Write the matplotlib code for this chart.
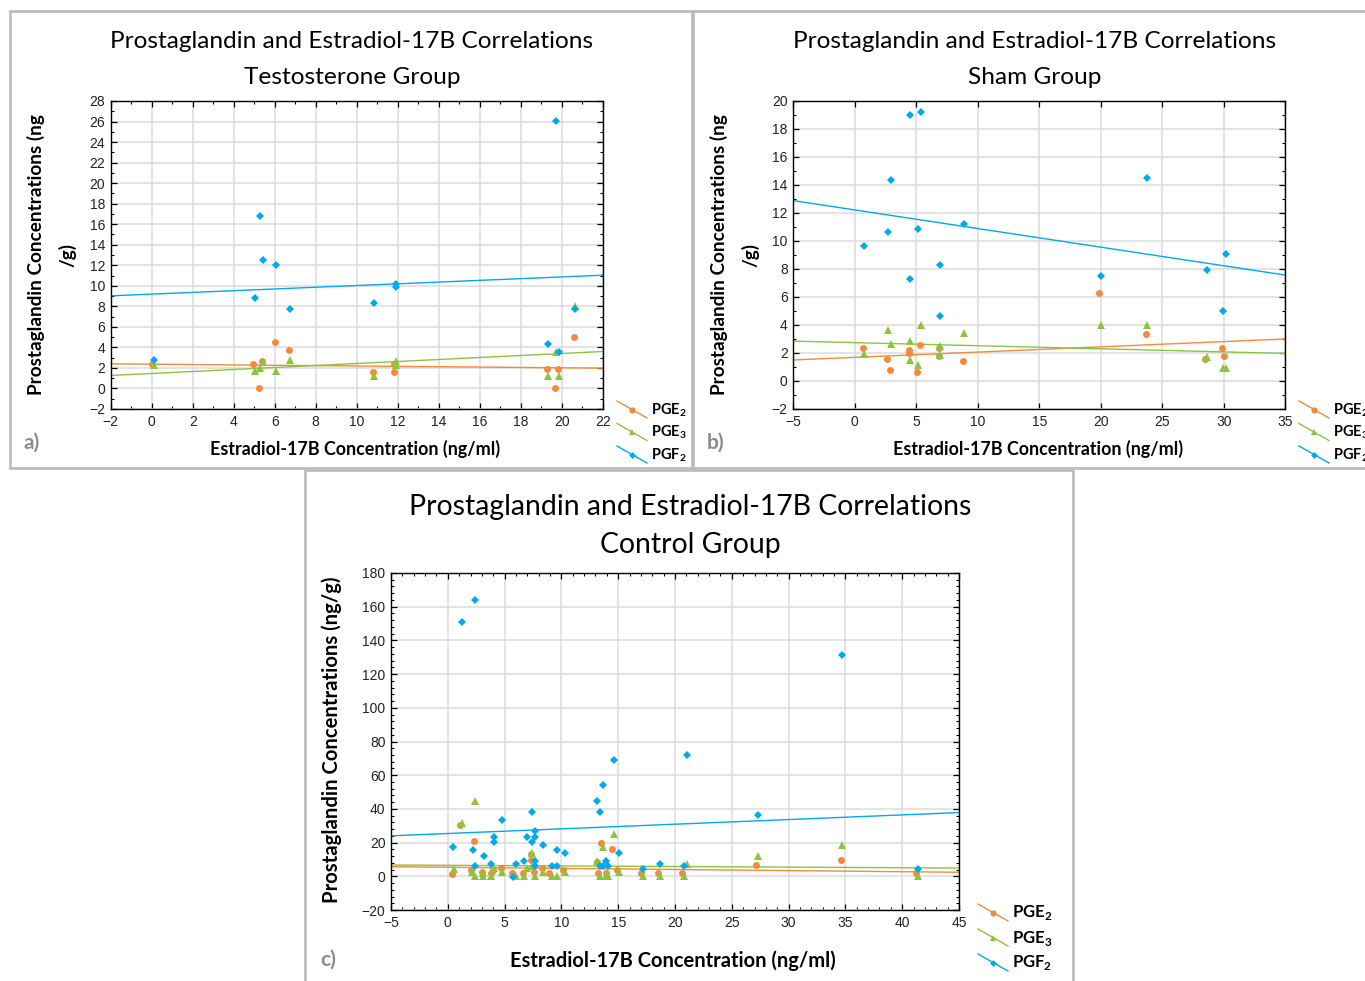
import numpy as np
import matplotlib
matplotlib.use('Agg')
import matplotlib.pyplot as plt
from matplotlib.lines import Line2D
from matplotlib.patches import Rectangle
from matplotlib.ticker import MultipleLocator

plt.rcParams['font.family'] = ['Lato', 'DejaVu Sans']
plt.rcParams['mathtext.fontset'] = 'custom'
plt.rcParams['mathtext.rm'] = 'Lato'
plt.rcParams['mathtext.bf'] = 'Lato:bold'

ORANGE = '#F58A3D'
GREEN = '#8CC43F'
BLUE = '#00A9EC'
TICKFONT = 'Liberation Sans'

# ---------------- a) Testosterone group ----------------
a_pge2_x = [0.03, 4.96, 5.37, 5.22, 6.0, 6.68, 10.78, 11.84, 11.84, 19.27, 19.8, 19.67, 20.59]
a_pge2_y = [2.37, 2.37, 2.63, 0.0, 4.48, 3.70, 1.56, 2.34, 1.56, 1.85, 1.85, 0.0, 5.03]
a_pge3_x = [0.11, 5.02, 5.28, 5.43, 6.08, 6.75, 10.85, 11.9, 11.9, 19.33, 19.87, 19.74, 20.67]
a_pge3_y = [2.24, 1.72, 1.98, 2.53, 1.72, 2.79, 1.17, 2.72, 2.27, 1.17, 1.17, 3.57, 8.04]
a_pgf2_x = [0.11, 5.28, 5.43, 6.08, 5.02, 6.75, 10.85, 11.9, 11.9, 19.74, 19.33, 19.87, 20.67]
a_pgf2_y = [2.76, 16.83, 12.55, 12.03, 8.85, 7.78, 8.30, 10.18, 9.93, 26.1, 4.35, 3.57, 7.78]
# trend lines (slope, intercept)
a_fit = {'pge2': (-0.0175, 2.365), 'pge3': (0.0973, 1.46), 'pgf2': (0.0837, 9.19)}

# ---------------- b) Sham group ----------------
b_pge2_x = [0.64, 2.62, 2.84, 4.38, 4.38, 5.06, 5.28, 6.82, 6.82, 8.80, 19.87, 23.64, 28.49, 29.82, 30.04]
b_pge2_y = [2.38, 1.59, 0.81, 2.19, 2.0, 0.62, 2.57, 2.38, 1.81, 1.40, 6.25, 3.35, 1.59, 2.38, 1.78]
b_pge3_x = [0.75, 2.73, 2.97, 4.52, 4.52, 5.17, 5.41, 6.93, 6.93, 8.91, 20.0, 23.75, 28.6, 29.93, 30.15]
b_pge3_y = [1.90, 3.64, 2.66, 2.85, 1.50, 1.12, 4.02, 2.47, 1.88, 3.45, 4.02, 4.02, 1.69, 0.93, 0.93]
b_pgf2_x = [0.75, 2.97, 2.73, 4.52, 5.41, 5.17, 4.52, 6.93, 6.93, 8.91, 20.0, 23.75, 28.6, 30.15, 29.93]
b_pgf2_y = [9.66, 14.34, 10.65, 19.0, 19.21, 10.84, 7.32, 8.30, 4.61, 11.22, 7.51, 14.53, 7.92, 9.08, 4.99]
b_fit = {'pge2': (0.0375, 1.69), 'pge3': (-0.022, 2.74), 'pgf2': (-0.133, 12.22)}

# ---------------- c) Control group ----------------
c_pge2_x = [0.4, 1.1, 2.28, 2.0, 2.98, 3.84, 3.97, 4.67, 5.63, 6.59, 7.28, 7.28, 7.55, 8.25,
            8.94, 10.17, 13.1, 13.5, 13.25, 14.47, 13.94, 14.9, 17.05, 18.5, 20.66, 27.15, 34.57, 41.2]
c_pge2_y = [1.6, 30.7, 21.1, 3.5, 2.8, 2.0, 3.5, 5.1, 2.0, 2.0, 13.2, 9.9, 2.8, 5.1,
            2.0, 3.5, 8.3, 19.5, 2.0, 16.4, 2.0, 3.5, 2.0, 2.0, 2.0, 6.5, 9.9, 2.0]
c_pge3_x = [0.53, 1.23, 2.42, 2.15, 2.42, 3.11, 3.11, 3.84, 4.1, 4.8, 5.99, 6.72, 6.95, 7.42,
            7.42, 7.68, 8.38, 9.14, 9.64, 10.3, 13.15, 13.41, 13.64, 13.9, 14.14, 14.6, 15.07,
            17.2, 18.7, 20.83, 21.06, 27.3, 34.7, 41.36]
c_pge3_y = [4.3, 31.7, 44.5, 2.8, 0.4, 2.0, 0.4, 0.4, 5.1, 2.8, 0.4, 0.4, 5.1, 14.0,
            5.9, 0.4, 2.8, 0.4, 0.4, 2.8, 9.1, 0.4, 17.1, 0.4, 0.4, 25.2, 2.8,
            0.4, 0.4, 0.4, 7.5, 12.2, 18.7, 0.4]
c_pgf2_x = [1.23, 2.42, 34.7, 21.06, 14.6, 13.64, 13.15, 13.41, 7.42, 4.8, 27.3, 7.68, 7.68,
            6.95, 4.1, 4.1, 7.42, 0.5, 8.38, 2.19, 9.64, 3.15, 10.3, 15.07, 6.72, 7.68, 13.9,
            3.84, 5.99, 18.7, 2.42, 7.68, 9.14, 9.64, 13.41, 13.64, 14.14, 20.83, 17.2, 41.36, 5.76]
c_pgf2_y = [150.9, 163.7, 131.4, 71.9, 68.8, 54.2, 44.5, 38.0, 38.0, 33.3, 36.5, 26.8, 23.6,
            23.6, 23.6, 20.3, 20.3, 17.1, 18.7, 15.6, 15.6, 12.2, 13.8, 13.8, 9.1, 9.1, 9.1,
            7.5, 7.5, 7.5, 5.9, 5.9, 5.9, 5.9, 5.9, 5.9, 5.9, 5.9, 4.3, 4.3, -0.6]
c_fit = {'pge2': (-0.066, 5.37), 'pge3': (-0.036, 6.52), 'pgf2': (0.276, 25.4)}

title1 = 'Prostaglandin and Estradiol-17B Correlations'
xlabel = 'Estradiol-17B Concentration (ng/ml)'

fig = plt.figure(figsize=(13.65, 9.81), dpi=100)
W, H = 1365, 981


def px(x, y):
    return x / W, 1 - y / H


# panel frames
for (x0, y0, x1, y1) in [(10, 11, 692, 468), (693, 11, 1368, 468), (305, 470, 1073, 984)]:
    fig.add_artist(Rectangle(px(x0, y1), (x1 - x0) / W, (y1 - y0) / H, transform=fig.transFigure,
                             fill=False, ec='#bdbdbd', lw=2))


def draw_panel(rect, series, fits, xlim, ylim, xmaj, xmin, ymaj, ymin):
    ax = fig.add_axes(rect)
    ax.set_xlim(*xlim)
    ax.set_ylim(*ylim)
    ax.xaxis.set_major_locator(MultipleLocator(xmaj))
    ax.yaxis.set_major_locator(MultipleLocator(ymaj))
    if xmin:
        ax.xaxis.set_minor_locator(MultipleLocator(xmin))
    if ymin:
        ax.yaxis.set_minor_locator(MultipleLocator(ymin))
    ax.grid(True, which='major', color='#dcdcdc', lw=1.1)
    ax.set_axisbelow(True)
    ax.tick_params(which='both', direction='in', top=True, right=True, labelsize=10, pad=4,
                   labelcolor='#222222')
    ax.tick_params(which='major', length=4, width=0.9)
    ax.tick_params(which='minor', length=2, width=0.8)
    for lab in ax.get_xticklabels() + ax.get_yticklabels():
        lab.set_fontfamily(TICKFONT)
    for s in ax.spines.values():
        s.set_linewidth(1.0)
    xs = np.array(xlim)
    for key, col in [('pge2', ORANGE), ('pge3', GREEN), ('pgf2', BLUE)]:
        k, b = fits[key]
        ax.plot(xs, k * xs + b, color=col, lw=1.0, zorder=2)
    (x2, y2), (x3, y3), (xf, yf) = series
    ax.plot(x2, y2, 'o', color=ORANGE, ms=5, mew=0, zorder=3)
    ax.plot(x3, y3, '^', color=GREEN, ms=5.5, mew=0, zorder=4)
    ax.plot(xf, yf, 'D', color=BLUE, ms=4, mew=0, zorder=5)
    return ax


def draw_key(x0, y0, dy, fs):
    for i, (col, mk, lab) in enumerate([(ORANGE, 'o', r'PGE$_\mathbf{2}$'),
                                        (GREEN, '^', r'PGE$_\mathbf{3}$'),
                                        (BLUE, 'D', r'PGF$_\mathbf{2}$')]):
        y = y0 + i * dy
        a, b = px(x0, y - 9), px(x0 + 30, y + 8)
        fig.add_artist(Line2D([a[0], b[0]], [a[1], b[1]], color=col, lw=1, transform=fig.transFigure))
        m = px(x0 + 15, y)
        fig.add_artist(Line2D([m[0]], [m[1]], marker=mk, color=col, ms=4.5 if mk != 'D' else 3.5, mew=0,
                              transform=fig.transFigure))
        t = px(x0 + 34, y)
        fig.text(t[0], t[1], lab, fontsize=fs, fontweight='bold', va='center', ha='left')


# a)
axa = draw_panel([110.7 / W, 1 - 409 / H, 492 / W, 308 / H],
                 [(a_pge2_x, a_pge2_y), (a_pge3_x, a_pge3_y), (a_pgf2_x, a_pgf2_y)],
                 a_fit, (-2, 22), (-2, 28), 2, 1, 2, 1)
fig.text(*px(352, 41), title1, fontsize=17.6, ha='center', va='center')
fig.text(*px(352, 77), 'Testosterone Group', fontsize=17.6, ha='center', va='center')
fig.text(*px(355, 449), xlabel, fontsize=12.9, fontweight='bold', ha='center', va='center')
fig.text(*px(36, 255), 'Prostaglandin Concentrations (ng', fontsize=13.6, fontweight='bold',
         rotation=90, ha='center', va='center')
fig.text(*px(67, 255), '/g)', fontsize=13.6, fontweight='bold', rotation=90, ha='center', va='center')
fig.text(*px(32, 443), 'a)', fontsize=15, fontweight='bold', color='#8c8c8c', ha='center', va='center')
draw_key(617, 410, 22.5, 10.5)

# b)
axb = draw_panel([793.3 / W, 1 - 409 / H, 492 / W, 308 / H],
                 [(b_pge2_x, b_pge2_y), (b_pge3_x, b_pge3_y), (b_pgf2_x, b_pgf2_y)],
                 b_fit, (-5, 35), (-2, 20), 5, None, 2, 1)
fig.text(*px(1035, 41), title1, fontsize=17.6, ha='center', va='center')
fig.text(*px(1035, 77), 'Sham Group', fontsize=17.6, ha='center', va='center')
fig.text(*px(1038, 449), xlabel, fontsize=12.9, fontweight='bold', ha='center', va='center')
fig.text(*px(719, 255), 'Prostaglandin Concentrations (ng', fontsize=13.6, fontweight='bold',
         rotation=90, ha='center', va='center')
fig.text(*px(750, 255), '/g)', fontsize=13.6, fontweight='bold', rotation=90, ha='center', va='center')
fig.text(*px(716, 443), 'b)', fontsize=15, fontweight='bold', color='#8c8c8c', ha='center', va='center')
draw_key(1299, 410, 22.5, 10.5)

# c)
axc = draw_panel([391 / W, 1 - 910 / H, 568 / W, 337 / H],
                 [(c_pge2_x, c_pge2_y), (c_pge3_x, c_pge3_y), (c_pgf2_x, c_pgf2_y)],
                 c_fit, (-5, 45), (-20, 180), 5, 1, 20, 4)
fig.text(*px(690, 507), title1, fontsize=20.4, ha='center', va='center')
fig.text(*px(690, 545), 'Control Group', fontsize=20.4, ha='center', va='center')
fig.text(*px(673, 961), xlabel, fontsize=14.5, fontweight='bold', ha='center', va='center')
fig.text(*px(332, 740), 'Prostaglandin Concentrations (ng/g)', fontsize=14.6, fontweight='bold',
         rotation=90, ha='center', va='center')
fig.text(*px(328, 960), 'c)', fontsize=15, fontweight='bold', color='#8c8c8c', ha='center', va='center')
draw_key(978, 913, 25, 12)

fig.savefig('out.png', dpi=100)
